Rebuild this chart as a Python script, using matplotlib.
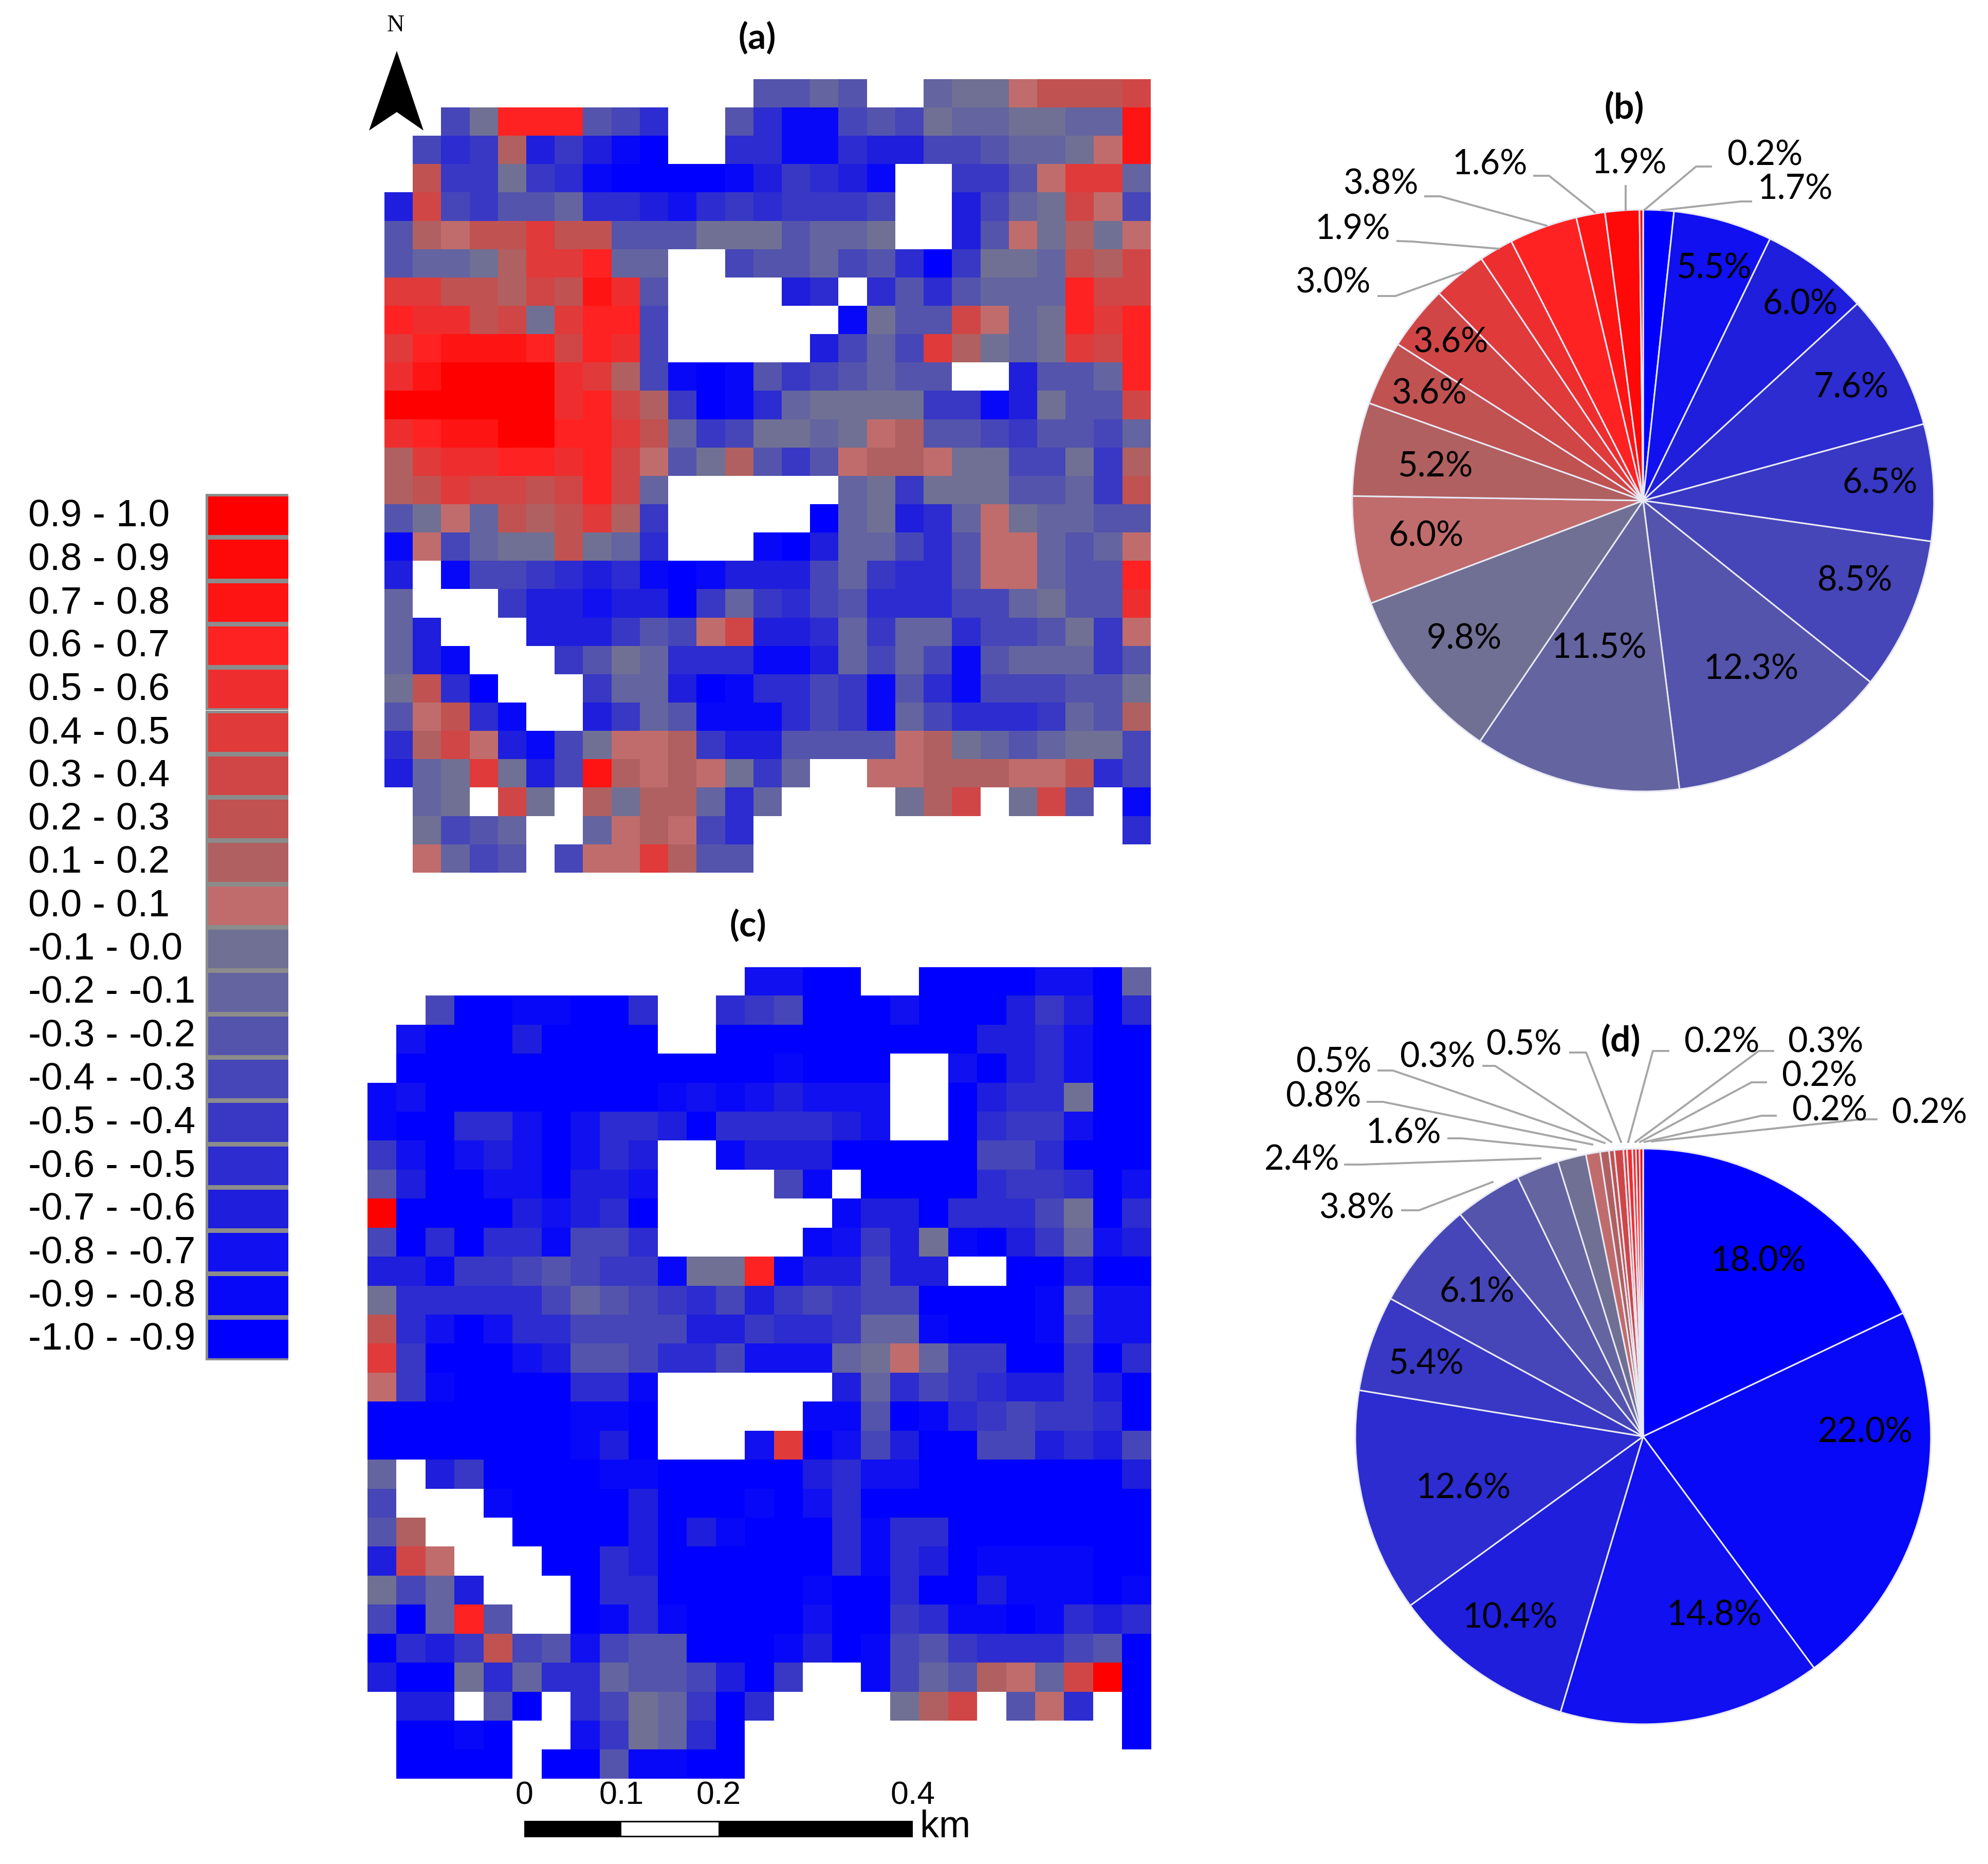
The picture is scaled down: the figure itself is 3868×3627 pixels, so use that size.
import numpy as np
import matplotlib
matplotlib.use('Agg')
import matplotlib.pyplot as plt
from matplotlib.colors import ListedColormap, BoundaryNorm
from matplotlib.patches import Polygon, Rectangle

W, H = 3868, 3627

# class colours, lowest class first
class_colors = ['#0000ff', '#0808f8', '#1010f0', '#1e1edc', '#2c2cd0', '#3838c4', '#4646b8',
                '#5454ac', '#6464a0', '#707094', '#c06c6c', '#b06060', '#c05252', '#d04646',
                '#e03a3a', '#ee2e2e', '#ff2222', '#ff1414', '#ff0808', '#ff0000']
class_labels = ['-1.0 - -0.9', '-0.9 - -0.8', '-0.8 - -0.7', '-0.7 - -0.6', '-0.6 - -0.5',
                '-0.5 - -0.4', '-0.4 - -0.3', '-0.3 - -0.2', '-0.2 - -0.1', '-0.1 - 0.0',
                '0.0 - 0.1', '0.1 - 0.2', '0.2 - 0.3', '0.3 - 0.4', '0.4 - 0.5',
                '0.5 - 0.6', '0.6 - 0.7', '0.7 - 0.8', '0.8 - 0.9', '0.9 - 1.0']

# map cells: one character per cell, class index in base 20, '.' = no data
map_a = [
    '.............7787..899acccd',
    '..69ggg764..74116769889988h',
    '.645b35310..4411433667889ah'[:13] + '411433667889ah',
    '.c55954100001' + '35431..557aee8',
    '3d65778443245' + '45556..3689da6',
    '7baccecc77799' + '97889..37a9b9a',
    '7889beeg88..6' + '77867405998cbd',
    'eeccbdchf7...' + '.34.4747888gdd',
    'gffcd9egg6...' + '...1977da89geg',
    'eghhhgdgf6...' + '..3686eb989edg',
    'fhjjjjfeb6101' + '7567877..3778g',
    'jjjjjjfgdb501' + '4899995513977d',
    'fghhjjggec856' + '9989ab77657768',
    'beffggfgda79b' + '757abba996695b',
    'bceddcdgd8...' + '...8959997785c',
    '79a8cbceb5...' + '..089348a98877',
    '1a6899c984...' + '10388647aa878a',
    '3.16654341013' + '33685447aa877g',
    '8...533233058' + '5467444668977f',
    '83...333576ad' + '3348588466795a',
    '831...5798444' + '11386861788857',
    '9c40...588301' + '44651741666779',
    '7ac41..358711' + '1465186444587b',
    '4bda3169aab53' + '37777ab9878996',
    '389e936hbaba9' + '58..aabbbaac46',
    '.89.d9.b9bb84' + '8....9bd.9d7.1',
    '.9678..8aba64' + '.............4',
    '.a867.6aaeb77' + '..............',
]
map_c = [
    '.............' + '2200..00002208',
    '..60011004..4' + '56000200035304',
    '.200030000..0' + '00000000334200',
    '.000000000000' + '01000..2034200',
    '1200000000121' + '23222..0344900',
    '1004420244304' + '44432..0455200',
    '5202320243..1' + '33300000664000',
    '7300220332...' + '.61.0000455402',
    'j000032340...' + '...13304446904',
    '6040441664...' + '..125391035823',
    '3315567655199' + 'g133633..00300',
    '9444446876546' + '35656600001722',
    'c420244666633' + '54458810001622',
    'e500023776446' + '22289a85500504',
    'a510000441...' + '...38465433530',
    '0000000110...' + '..117014565540',
    '0000000130...' + '2e026300663436',
    '8.35000011000' + '00342200000003',
    '6...100003000' + '10240000000000',
    '7b...00003031' + '00041440000000',
    '3da...0043000' + '00041430111100',
    '9683...044000' + '00100400311101',
    '608g7..014100' + '00200541101434',
    '0435c67267700' + '01301675444670',
    '3009484487763' + '05..1687ba8dj0',
    '.33.70.469850' + '4....9bd.7a4.0',
    '.0010..259840' + '.............0',
    '.0000.0071100' + '..............',
]

# pie (b) and (d): share in percent and the class of each slice, clockwise from the top
pie_b_values = [1.7, 5.5, 6.0, 7.6, 6.5, 8.5, 12.3, 11.5, 9.8, 6.0, 5.2, 3.6, 3.6, 3.0, 1.9, 3.8, 1.6, 1.9, 0.2]
pie_b_classes = [0, 2, 3, 4, 5, 6, 7, 8, 9, 10, 11, 12, 13, 14, 15, 16, 17, 18, 19]
pie_d_values = [18.0, 22.0, 14.8, 10.4, 12.6, 5.4, 6.1, 3.8, 2.4, 1.6, 0.8, 0.5, 0.3, 0.5, 0.2, 0.3, 0.2, 0.2, 0.2]
pie_d_classes = [0, 1, 2, 3, 4, 5, 6, 7, 8, 9, 10, 11, 12, 13, 14, 15, 16, 17, 19]

scale_labels = ['0', '0.1', '0.2', '0.4']
scale_km = [0, 0.1, 0.2, 0.4]

# label centres in pixels, same order as the slices
pie_b_label_pos = [(3493, 368), (3335, 523), (3503, 592), (3602, 755), (3658, 940), (3609, 1130), (3407, 1302),
                   (3111, 1261), (2849, 1243), (2775, 1043), (2792, 908), (2780, 767), (2822, 666), (2593, 550),
                   (2632, 447), (2686, 358), (2899, 321), (3170, 318), (3434, 303)]
pie_d_label_pos = [(3421, 2454), (3629, 2787), (3335, 3143), (2938, 3148), (2847, 2896), (2775, 2654), (2874, 2514),
                   (2639, 2351), (2533, 2257), (2731, 2205), (2575, 2134), (2595, 2067), (2797, 2057), (2965, 2033),
                   (3350, 2028), (3552, 2028), (3540, 2094), (3560, 2161), (3754, 2166)]
# leader lines in pixels
pie_b_leaders = [
    [(3329, 324), (3300, 324), (3200, 408)], [(3407, 392), (3387, 392), (3233, 409)],
    [(3163, 362), (3163, 408)], [(2985, 342), (3014, 342), (3103, 413)],
    [(2773, 382), (2802, 382), (3009, 439)], [(2719, 469), (2748, 470), (2916, 484)],
    [(2682, 576), (2715, 576), (2846, 529)],
]
pie_d_leaders = [
    [(3246, 2045), (3216, 2045), (3168, 2222)], [(3450, 2045), (3422, 2045), (3182, 2222)],
    [(3436, 2106), (3408, 2106), (3191, 2222)], [(3455, 2171), (3427, 2171), (3200, 2222)],
    [(3651, 2178), (3621, 2178), (3214, 2221)], [(3055, 2048), (3086, 2048), (3154, 2222)],
    [(2886, 2074), (2909, 2074), (3135, 2222)], [(2682, 2083), (2710, 2083), (3122, 2224)],
    [(2661, 2144), (2691, 2144), (3098, 2227)], [(2818, 2215), (2844, 2215), (3066, 2237)],
    [(2617, 2266), (2650, 2266), (2997, 2254)], [(2728, 2355), (2761, 2355), (2904, 2300)],
]

SANS = 'Liberation Sans'
PIE_FONT = 'Lato'


def px_axes(fig, x0, y0, x1, y1, **kw):
    # axes from a box given in image pixels, y going down
    return fig.add_axes([x0 / W, 1 - y1 / H, (x1 - x0) / W, (y1 - y0) / H], **kw)


def draw_map(fig, rows, box):
    digits = '0123456789abcdefghij'
    cells = np.array([[digits.find(c) for c in row] for row in rows], dtype=float)
    cells = np.ma.masked_less(cells, 0)
    cmap = ListedColormap(class_colors)
    cmap.set_bad('white')
    norm = BoundaryNorm(np.arange(-0.5, 20.5), 20)
    ax = px_axes(fig, *box)
    ax.imshow(cells, cmap=cmap, norm=norm, aspect='auto', interpolation='nearest')
    ax.axis('off')


def draw_pie(fig, values, classes, centre, radius):
    ax = px_axes(fig, centre[0] - radius, centre[1] - radius, centre[0] + radius, centre[1] + radius)
    ax.pie(values, colors=[class_colors[c] for c in classes], startangle=90, counterclock=False,
           normalize=True, radius=1,
           wedgeprops={'edgecolor': '#e8e8f4', 'linewidth': 2.2})
    ax.set_xlim(-1, 1)
    ax.set_ylim(-1, 1)
    ax.axis('off')


fig = plt.figure(figsize=(W / 100, H / 100), dpi=100, facecolor='white')

draw_map(fig, map_a, (748, 154, 2239, 1698))
draw_map(fig, map_c, (715, 1882, 2240, 3461))
draw_pie(fig, pie_b_values, pie_b_classes, (3197, 974), 566)
draw_pie(fig, pie_d_values, pie_d_classes, (3197, 2795), 560)

# overlay in image pixels for text, legend, arrow, scale bar
ov = fig.add_axes([0, 0, 1, 1], facecolor='none')
ov.set_xlim(0, W)
ov.set_ylim(H, 0)
ov.axis('off')

# legend
swatch_top = 961
swatch_h = 84.3
for i, (col, lab) in enumerate(zip(class_colors[::-1], class_labels[::-1])):
    y = swatch_top + i * swatch_h
    ov.add_patch(Rectangle((400, y), 161, swatch_h, facecolor='#8c8c8c', edgecolor='none'))
    ov.add_patch(Rectangle((405, y + 5), 156, swatch_h - 9, facecolor=col, edgecolor='none'))
    ov.text(55, y + 44, lab, fontsize=54, family=SANS, va='center', ha='left', color='black')

# pie labels and leaders
for vals, pos in [(pie_b_values, pie_b_label_pos), (pie_d_values, pie_d_label_pos)]:
    for v, (x, y) in zip(vals, pos):
        ov.text(x, y, f'{v:.1f}%', fontsize=48, family=PIE_FONT, ha='center', va='center', color='black')
for line in pie_b_leaders + pie_d_leaders:
    xs, ys = zip(*line)
    ov.plot(xs, ys, color='#a6a6a6', lw=2.8, solid_joinstyle='round')

# panel letters
for lab, x, y in [('(a)', 1473, 74), ('(b)', 3160, 210), ('(c)', 1455, 1801), ('(d)', 3153, 2025)]:
    ov.text(x, y, lab, fontsize=50, family=PIE_FONT, fontweight='bold', ha='center', va='center', color='black')

# north arrow
ov.add_patch(Polygon([(772, 99), (824, 254), (772, 218), (718, 254)], closed=True, facecolor='black', edgecolor='none'))
ov.text(770, 50, 'N', fontsize=34, family='Liberation Serif', ha='center', va='center', color='black')

# scale bar
bar_x0, bar_x1 = 1020, 1776
to_px = lambda km: bar_x0 + km / 0.4 * (bar_x1 - bar_x0)
ov.add_patch(Rectangle((bar_x0, 3543), bar_x1 - bar_x0, 32, facecolor='black', edgecolor='none'))
ov.add_patch(Rectangle((to_px(0.1), 3546), to_px(0.2) - to_px(0.1), 26, facecolor='white', edgecolor='none'))
for lab, km in zip(scale_labels, scale_km):
    ov.text(to_px(km), 3494, lab, fontsize=45, family=SANS, ha='center', va='center', color='black')
ov.text(1790, 3575, 'km', fontsize=53, family=SANS, ha='left', va='baseline', color='black')

fig.savefig('out.png', dpi=100, facecolor='white')
